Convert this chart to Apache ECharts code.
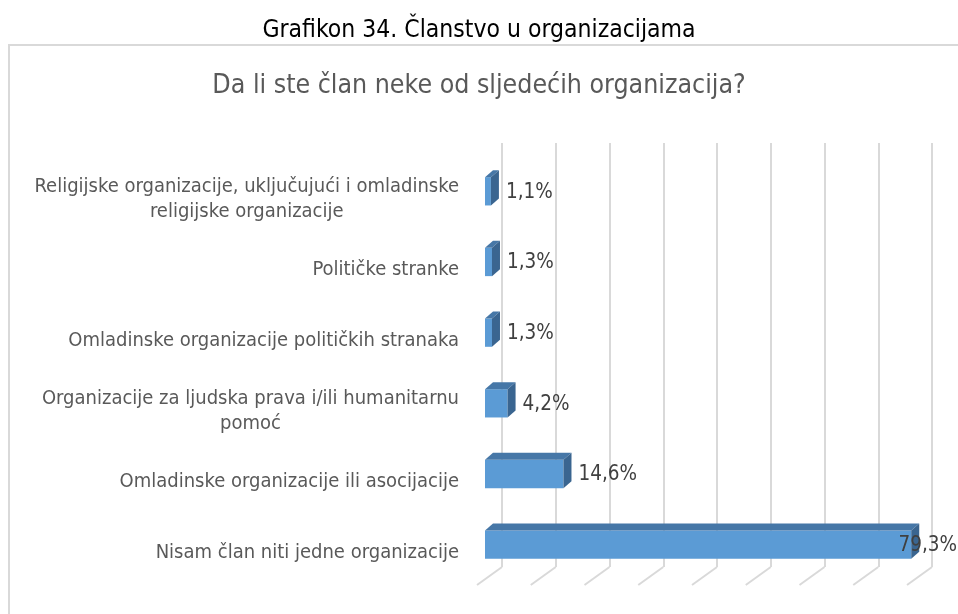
<!DOCTYPE html>
<html>
<head>
<meta charset="utf-8">
<script src="https://cdn.jsdelivr.net/npm/echarts@6/dist/echarts.min.js"></script>
<style>
  html, body { margin: 0; padding: 0; background: #fff; }
  #chart { width: 958px; height: 614px; }
</style>
</head>
<body>
<div id="chart"></div>
<script>
// Podaci sa grafika (odozgo prema dolje)
const categories = [
  'Religijske organizacije, uključujući i omladinske\nreligijske organizacije',
  'Političke stranke',
  'Omladinske organizacije političkih stranaka',
  'Organizacije za ljudska prava i/ili humanitarnu\npomoć',
  'Omladinske organizacije ili asocijacije',
  'Nisam član niti jedne organizacije'
]
const values = [1.1, 1.3, 1.3, 4.2, 14.6, 79.3]
const xTicks = [0, 10, 20, 30, 40, 50, 60, 70, 80]

const FONT = '"DejaVu Sans Condensed", "Liberation Sans Narrow", sans-serif'

// ── 3D stupci: prednja strana, gornja i bočna ──
function renderBar(params, api) {
  const v = api.value(0)
  const c = api.value(1)
  const p0 = api.coord([0, c])
  const p1 = api.coord([v, c])
  const h = api.size([0, 1])[1] * 0.4
  const ox = -17, oy = 13      // prednja ravan u odnosu na zadnju (mrežu)
  const dx = 8, dy = -7        // dubina stupca
  const x0 = p0[0] + ox, x1 = p1[0] + ox
  const yT = p0[1] + oy - h / 2, yB = yT + h
  const txt = v.toFixed(1).replace('.', ',') + '%'
  let lx = x1 + dx + 7, align = 'left'
  if (lx + 48 > api.getWidth()) { lx = api.getWidth() - 1; align = 'right' }
  return {
    type: 'group',
    children: [
      { type: 'rect', shape: { x: x0, y: yT, width: x1 - x0, height: h },
        style: { fill: '#5b9bd5' } },
      { type: 'polygon', shape: { points: [[x0, yT], [x0 + dx, yT + dy], [x1 + dx, yT + dy], [x1, yT]] },
        style: { fill: '#4677a7' } },
      { type: 'polygon', shape: { points: [[x1, yT], [x1 + dx, yT + dy], [x1 + dx, yB + dy], [x1, yB]] },
        style: { fill: '#3a6590' } },
      { type: 'text', z2: 10,
        style: { text: txt, x: lx, y: yT + h / 2 + 1, fill: '#404040',
                 fontSize: 20.5, fontFamily: FONT, align: align, verticalAlign: 'middle' } }
    ]
  }
}

// ── kose linije poda ispod mreže ──
function renderFloor(params, api) {
  const cs = params.coordSys
  const p = api.coord([api.value(0), 0])
  const yb = cs.y + cs.height
  return {
    type: 'line',
    shape: { x1: p[0], y1: yb, x2: p[0] - 25, y2: yb + 18 },
    style: { stroke: '#d9d9d9', lineWidth: 2 }
  }
}

const chart = echarts.init(document.getElementById('chart'))
chart.setOption({
  animation: false,
  backgroundColor: '#fff',
  title: [
    { text: 'Grafikon 34. Članstvo u organizacijama', left: 'center', top: 13,
      textStyle: { fontFamily: FONT, fontSize: 24.5, fontWeight: 'normal', color: '#000' } },
    { text: 'Da li ste član neke od sljedećih organizacija?', left: 'center', top: 68,
      textStyle: { fontFamily: FONT, fontSize: 26.5, fontWeight: 'normal', color: '#595959' } }
  ],
  graphic: [
    { type: 'rect', shape: { x: 9, y: 45, width: 1000, height: 700 },
      style: { fill: 'none', stroke: '#d9d9d9', lineWidth: 2 }, z: -1 }
  ],
  grid: { left: 502, right: 26, top: 143, bottom: 47, containLabel: false, outerBoundsMode: 'none' },
  xAxis: {
    type: 'value', min: 0, max: 80, interval: 10,
    axisLine: { show: false }, axisTick: { show: false }, axisLabel: { show: false },
    splitLine: { show: true, lineStyle: { color: '#d9d9d9', width: 2 } }
  },
  yAxis: {
    type: 'category', inverse: true, data: categories,
    axisLine: { show: false }, axisTick: { show: false }, splitLine: { show: false },
    axisLabel: {
      interval: 0, margin: 43, color: '#595959', fontFamily: FONT, fontSize: 20,
      lineHeight: 25, padding: [42, 0, 0, 0],
      formatter: v => v.split('\n').map(l => '{c|' + l + '}').join('\n'),
      rich: { c: { align: 'center', fontFamily: FONT, fontSize: 20, color: '#595959', lineHeight: 25 } }
    }
  },
  series: [
    { type: 'custom', renderItem: renderFloor, clip: false, silent: true,
      data: xTicks.map(t => [t, 0]), encode: { x: 0, y: 1 } },
    { type: 'custom', renderItem: renderBar, clip: false,
      data: values.map((v, i) => [v, i]), encode: { x: 0, y: 1 } }
  ]
})
</script>
</body>
</html>
